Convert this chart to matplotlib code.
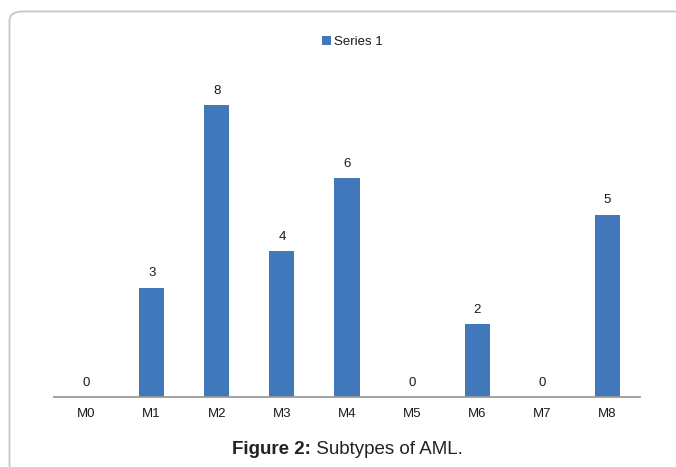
import matplotlib
matplotlib.use("Agg")
import matplotlib.pyplot as plt
from matplotlib.patches import FancyBboxPatch

categories = ["M0", "M1", "M2", "M3", "M4", "M5", "M6", "M7", "M8"]
values = [0, 3, 8, 4, 6, 0, 2, 0, 5]
series_name = "Series 1"
caption_bold = "Figure 2:"
caption_rest = " Subtypes of AML."

plt.rcParams['font.family'] = ['Liberation Sans', 'DejaVu Sans']

fig = plt.figure(figsize=(6.76, 4.67), dpi=100)
W, H = 676, 467

# outer rounded frame
frame = FancyBboxPatch((9.5 / W, -0.2), 1.2, 1.2 - 11.5 / H,
                       boxstyle="round,pad=0,rounding_size=0.02",
                       transform=fig.transFigure, fill=False,
                       edgecolor="#c6c6c6", linewidth=1.3, clip_on=False)
fig.patches.append(frame)

left = 54 / W
right = 640 / W
bottom = (H - 397) / H
top_px = 397 - 9 * 36.5
height = (397 - top_px) / H
ax = fig.add_axes([left, bottom, right - left, height])

color = "#4178BC"
x = list(range(len(categories)))
bars = ax.bar(x, values, width=0.385, color=color, label=series_name, zorder=2)
ax.set_xlim(-0.5, len(categories) - 0.5)
ax.set_ylim(0, 9)

for xi, v in zip(x, values):
    ax.annotate(str(v), (xi, v), xytext=(0, 6), textcoords="offset points",
                ha="center", va="bottom", fontsize=9.5, color="#1a1a1a")

for s in ["top", "right", "left"]:
    ax.spines[s].set_visible(False)
ax.spines["bottom"].set_color("#9a9a9a")
ax.spines["bottom"].set_linewidth(1.3)
ax.set_yticks([])
ax.set_xticks(x)
ax.set_xticklabels(categories, fontsize=9.5, color="#1a1a1a")
ax.tick_params(axis="x", length=0, pad=8)

leg = fig.legend(handles=[bars], labels=[series_name], loc="center",
                 bbox_to_anchor=(352 / W, 1 - 42 / H), frameon=False,
                 fontsize=9.5, handlelength=0.7, handleheight=0.7,
                 handletextpad=0.2)
for t in leg.get_texts():
    t.set_color("#1a1a1a")

t1 = fig.text(0, 1 - 450 / H, caption_bold, fontsize=13.5, fontweight="bold",
              ha="left", va="center", color="#222222")
t2 = fig.text(0, 1 - 450 / H, caption_rest, fontsize=13.5,
              ha="left", va="center", color="#222222")
fig.canvas.draw()
r = fig.canvas.get_renderer()
w1 = t1.get_window_extent(r).width
w2 = t2.get_window_extent(r).width
start = 347.5 - (w1 + w2) / 2
t1.set_x(start / W)
t2.set_x((start + w1) / W)

fig.savefig("out.png", dpi=100)
